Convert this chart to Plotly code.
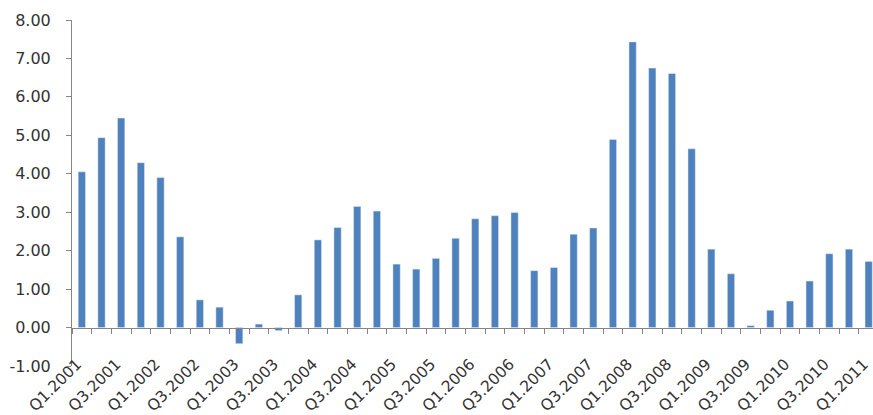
import plotly.graph_objects as go

quarters = [f"Q{q}.{y}" for y in range(2001, 2012) for q in range(1, 5)][:41]
values = [4.05, 4.94, 5.45, 4.29, 3.90, 2.36, 0.72, 0.53, -0.42, 0.09, -0.08, 0.85,
          2.28, 2.60, 3.15, 3.03, 1.65, 1.52, 1.80, 2.32, 2.83, 2.91, 2.99, 1.48,
          1.56, 2.43, 2.59, 4.89, 7.43, 6.75, 6.61, 4.65, 2.04, 1.40, 0.05, 0.45,
          0.69, 1.21, 1.92, 2.04, 1.72]
idx = list(range(len(quarters)))
label_idx = idx[::2]
label_text = [quarters[i] for i in label_idx]
y_ticks = [-1, 0, 1, 2, 3, 4, 5, 6, 7, 8]

BAR = "#4F81BD"
AX = "#868686"
TXT = "#333333"
FONT = "DejaVu Sans"
xr = [-0.5, 40.22]
LABEL_SHIFT = -0.25  # rotated labels end just left of their bar

fig = go.Figure()
fig.add_trace(go.Bar(x=idx, y=values, marker_color=BAR, width=0.37,
                     hoverinfo="skip", showlegend=False))
fig.add_trace(go.Scatter(x=idx, y=values, xaxis="x2", mode="markers",
                         marker=dict(opacity=0), hoverinfo="skip", showlegend=False))

fig.update_layout(
    width=873, height=415,
    margin=dict(l=72, r=0, t=20, b=49),
    paper_bgcolor="white", plot_bgcolor="white",
    font=dict(family=FONT, color=TXT, size=15),
    xaxis=dict(range=xr, tickmode="array", tickvals=[i + LABEL_SHIFT for i in label_idx],
               ticktext=label_text,
               tickangle=-45, showline=False, ticks="", showgrid=False, zeroline=False,
               ticklabeloverflow="allow", automargin=False, ticklabelstandoff=-15,
               tickfont=dict(size=15.5, color=TXT)),
    xaxis2=dict(range=xr, overlaying="x", anchor="free", position=1/9,
                tickmode="array", tickvals=[i - 0.5 for i in idx] + [40.5],
                showticklabels=False, showline=True, linecolor=AX, linewidth=1,
                ticks="outside", ticklen=5, tickcolor=AX, showgrid=False, zeroline=False),
    yaxis=dict(range=[-1, 8], tickmode="array", tickvals=y_ticks,
               ticktext=[f"{v:.2f}" for v in y_ticks],
               showline=True, linecolor=AX, linewidth=1, ticks="outside", ticklen=5,
               tickcolor=AX, showgrid=False, zeroline=False, ticklabelstandoff=12,
               automargin=False, tickfont=dict(size=16, color=TXT)),
)

fig.write_html("out.html")
